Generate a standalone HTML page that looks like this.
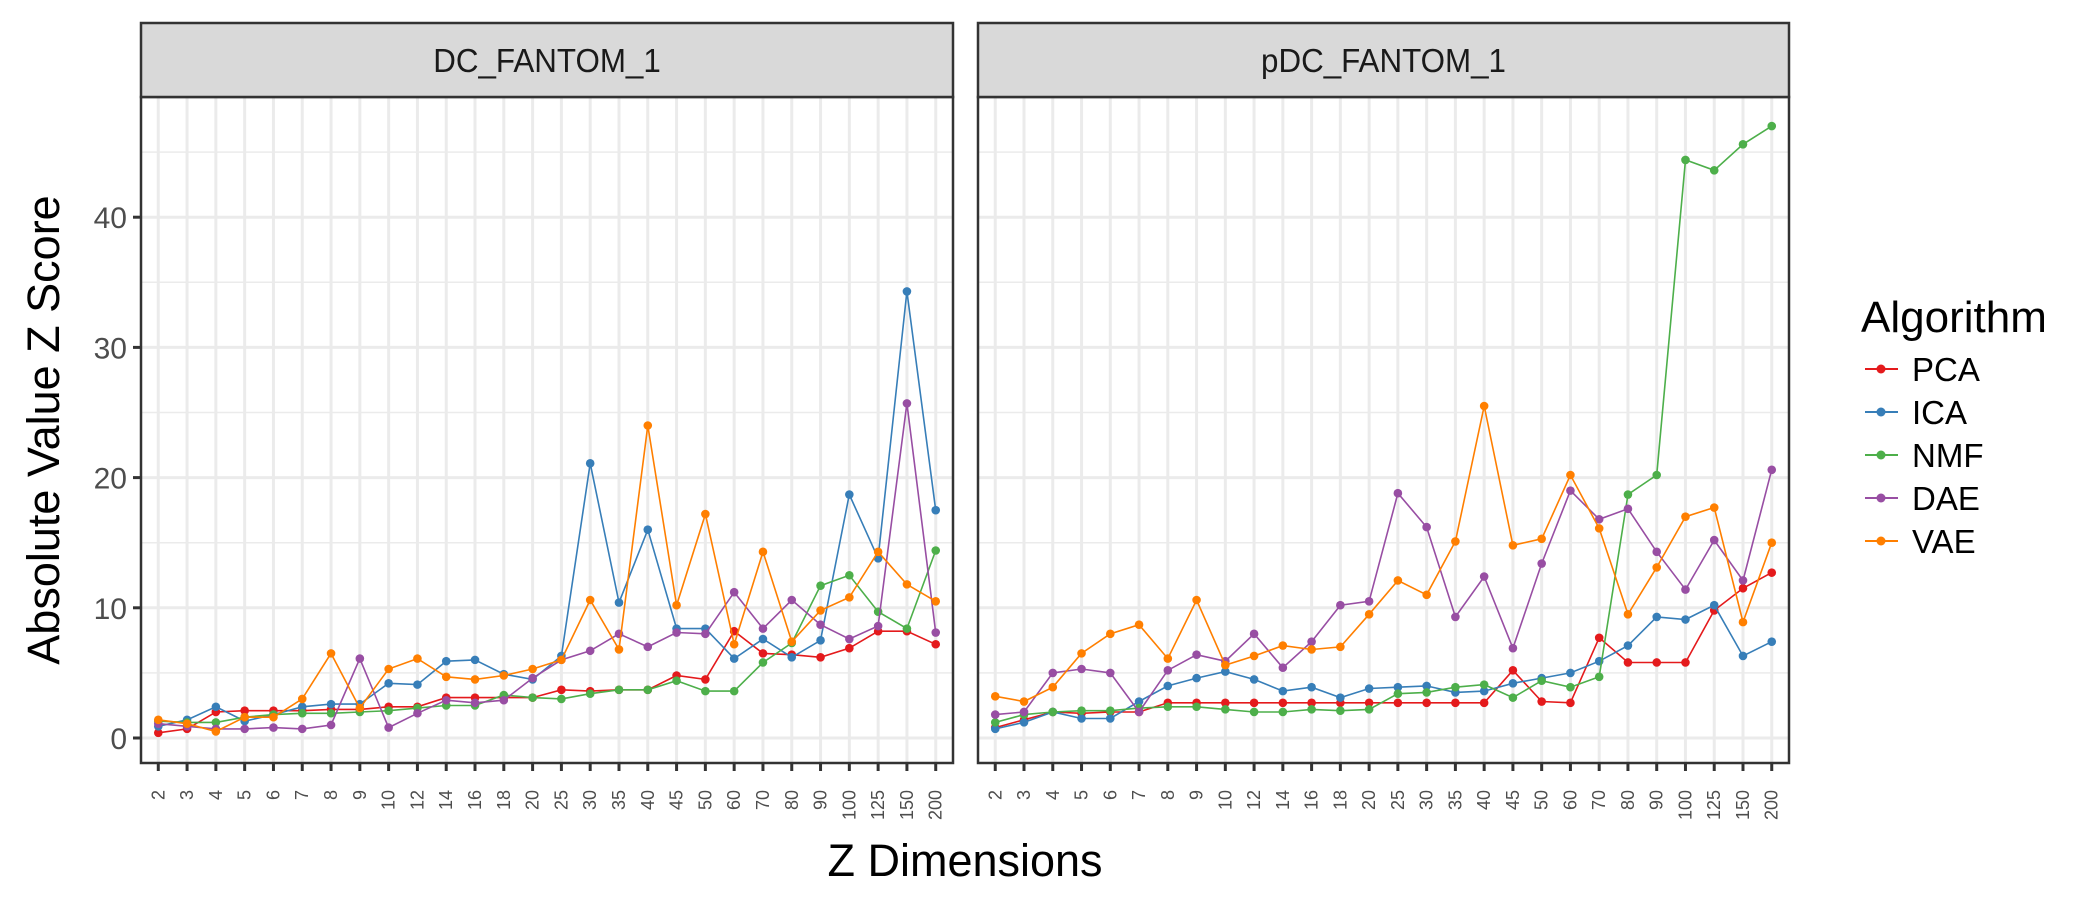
<!DOCTYPE html>
<html><head><meta charset="utf-8"><style>
html,body{margin:0;padding:0;background:#fff;}
svg{display:block;font-family:"Liberation Sans",Arial,sans-serif;}
</style></head><body>
<svg id="chart" width="2100" height="900" viewBox="0 0 2100 900" xmlns="http://www.w3.org/2000/svg">
<g id="panels"></g>
<text transform="translate(59,430) rotate(-90)" text-anchor="middle" font-size="45" fill="#000">Absolute Value Z Score</text>
<text transform="translate(965,876)" text-anchor="middle" font-size="45" fill="#000">Z Dimensions</text>
<g id="legend"></g>
</svg>
<script>
const categories = ["2","3","4","5","6","7","8","9","10","12","14","16","18","20","25","30","35","40","45","50","60","70","80","90","100","125","150","200"];
const yTicks = [0,10,20,30,40];
const algorithms = ["PCA","ICA","NMF","DAE","VAE"];
const panelTitles = ["DC_FANTOM_1","pDC_FANTOM_1"];
const dcPCA = [0.4,0.7,2.0,2.1,2.1,2.1,2.2,2.2,2.4,2.4,3.1,3.1,3.1,3.1,3.7,3.6,3.7,3.7,4.8,4.5,8.2,6.5,6.4,6.2,6.9,8.2,8.2,7.2];
const dcICA = [0.9,1.4,2.4,1.3,1.8,2.4,2.6,2.6,4.2,4.1,5.9,6.0,4.9,4.5,6.3,21.1,10.4,16.0,8.4,8.4,6.1,7.6,6.2,7.5,18.7,13.8,34.3,17.5];
const dcNMF = [1.3,1.2,1.2,1.6,1.8,1.9,1.9,2.0,2.1,2.3,2.5,2.5,3.3,3.1,3.0,3.4,3.7,3.7,4.4,3.6,3.6,5.8,7.3,11.7,12.5,9.7,8.4,14.4];
const dcDAE = [1.1,0.9,0.7,0.7,0.8,0.7,1.0,6.1,0.8,1.9,2.9,2.7,2.9,4.6,6.0,6.7,8.0,7.0,8.1,8.0,11.2,8.4,10.6,8.7,7.6,8.6,25.7,8.1];
const dcVAE = [1.4,1.1,0.5,1.6,1.6,3.0,6.5,2.3,5.3,6.1,4.7,4.5,4.8,5.3,6.0,10.6,6.8,24.0,10.2,17.2,7.2,14.3,7.4,9.8,10.8,14.3,11.8,10.5];
const pdcPCA = [0.8,1.4,2.0,1.9,2.0,2.0,2.7,2.7,2.7,2.7,2.7,2.7,2.7,2.7,2.7,2.7,2.7,2.7,5.2,2.8,2.7,7.7,5.8,5.8,5.8,9.8,11.5,12.7];
const pdcICA = [0.7,1.2,2.0,1.5,1.5,2.8,4.0,4.6,5.1,4.5,3.6,3.9,3.1,3.8,3.9,4.0,3.5,3.6,4.2,4.6,5.0,5.9,7.1,9.3,9.1,10.2,6.3,7.4];
const pdcNMF = [1.2,1.8,2.0,2.1,2.1,2.3,2.4,2.4,2.2,2.0,2.0,2.2,2.1,2.2,3.4,3.5,3.9,4.1,3.1,4.4,3.9,4.7,18.7,20.2,44.4,43.6,45.6,47.0];
const pdcDAE = [1.8,2.0,5.0,5.3,5.0,2.0,5.2,6.4,5.9,8.0,5.4,7.4,10.2,10.5,18.8,16.2,9.3,12.4,6.9,13.4,19.0,16.8,17.6,14.3,11.4,15.2,12.1,20.6];
const pdcVAE = [3.2,2.8,3.9,6.5,8.0,8.7,6.1,10.6,5.6,6.3,7.1,6.8,7.0,9.5,12.1,11.0,15.1,25.5,14.8,15.3,20.2,16.1,9.5,13.1,17.0,17.7,8.9,15.0];

const colors = {PCA:"#E41A1C",ICA:"#377EB8",NMF:"#4DAF4A",DAE:"#984EA3",VAE:"#FF7F00"};
const panelData = [
  {PCA:dcPCA,ICA:dcICA,NMF:dcNMF,DAE:dcDAE,VAE:dcVAE},
  {PCA:pdcPCA,ICA:pdcICA,NMF:pdcNMF,DAE:pdcDAE,VAE:pdcVAE}
];
const NS="http://www.w3.org/2000/svg";
const panelsG=document.getElementById('panels');
const panelBoxes=[{x0:141,x1:953},{x0:978,x1:1789}];
const stripTop=23, plotTop=97, plotBottom=763;
const yScale=v=>738 - v*13.02;
function mk(tag,attrs,parent){const e=document.createElementNS(NS,tag);for(const k in attrs)e.setAttribute(k,attrs[k]);parent.appendChild(e);return e;}

panelBoxes.forEach((pb,pi)=>{
  const g=mk('g',{},panelsG);
  
  
  const n=categories.length;
  const step=(pb.x1-pb.x0)/(n-1+1.2);
  const xScale=i=>pb.x0+step*0.6+i*step;
  for(let v=5;v<=45;v+=10){
    const l=mk('line',{x1:pb.x0,x2:pb.x1,y1:yScale(v),y2:yScale(v),stroke:"#ebebeb","stroke-width":1.5},g);
    
    
  }
  yTicks.forEach(v=>{
    const l=mk('line',{x1:pb.x0,x2:pb.x1,y1:yScale(v),y2:yScale(v),stroke:"#ebebeb","stroke-width":3},g);
    
    
  });
  categories.forEach((c,i)=>{
    const l=mk('line',{x1:xScale(i),x2:xScale(i),y1:plotTop,y2:plotBottom,stroke:"#ebebeb","stroke-width":3},g);
    
    
    const t=mk('line',{x1:xScale(i),x2:xScale(i),y1:plotBottom,y2:plotBottom+8,stroke:"#333","stroke-width":3},g);
    
    
    const tx=mk('text',{transform:`translate(${xScale(i)+6},790) rotate(-90)`,"text-anchor":"end","font-size":18,fill:"#4d4d4d"},g);
    tx.textContent=c;
    
    
  });
  algorithms.forEach(a=>{
    const vals=panelData[pi][a];
    const sg=mk('g',{},g);
    
    
    const pts=vals.map((v,i)=>xScale(i).toFixed(1)+','+yScale(v).toFixed(1)).join(' ');
    const pl=mk('polyline',{points:pts,fill:"none",stroke:colors[a],"stroke-width":1.6},sg);
    
    
    vals.forEach((v,i)=>{
      const c=mk('circle',{cx:xScale(i),cy:yScale(v),r:4.3,fill:colors[a]},sg);
      
      
    });
  });
  const br=mk('rect',{x:pb.x0,y:plotTop,width:pb.x1-pb.x0,height:plotBottom-plotTop,fill:"none",stroke:"#333","stroke-width":2.5},g);
  
  
  const sr=mk('rect',{x:pb.x0,y:stripTop,width:pb.x1-pb.x0,height:plotTop-stripTop,fill:"#d9d9d9",stroke:"#333","stroke-width":2.5},g);
  
  
  const st=mk('text',{transform:`translate(${(pb.x0+pb.x1)/2},72) scale(0.95,1)`,"text-anchor":"middle","font-size":33,fill:"#1a1a1a"},g);
  st.textContent=panelTitles[pi];
  
  
  if(pi===0){
    yTicks.forEach(v=>{
      const t=mk('line',{x1:pb.x0-8,x2:pb.x0,y1:yScale(v),y2:yScale(v),stroke:"#333","stroke-width":3},g);
      
      
      const tx=mk('text',{transform:`translate(${pb.x0-14},${yScale(v)+11})`,"text-anchor":"end","font-size":30,fill:"#4d4d4d"},g);
      tx.textContent=v;
      
      
    });
  }
});
const lg=document.getElementById('legend');
const lt=mk('text',{transform:"translate(1861,332)","font-size":44,fill:"#000"},lg);
lt.textContent="Algorithm";


algorithms.forEach((a,i)=>{
  const y=369+i*43;
  const eg=mk('g',{},lg);
  
  
  mk('line',{x1:1865,x2:1898,y1:y,y2:y,stroke:colors[a],"stroke-width":2},eg);
  mk('circle',{cx:1881,cy:y,r:4.5,fill:colors[a]},eg);
  const t=mk('text',{transform:`translate(1912,${y+12})`,"font-size":33,fill:"#000"},eg);
  t.textContent=a;
});
</script>
</body></html>
